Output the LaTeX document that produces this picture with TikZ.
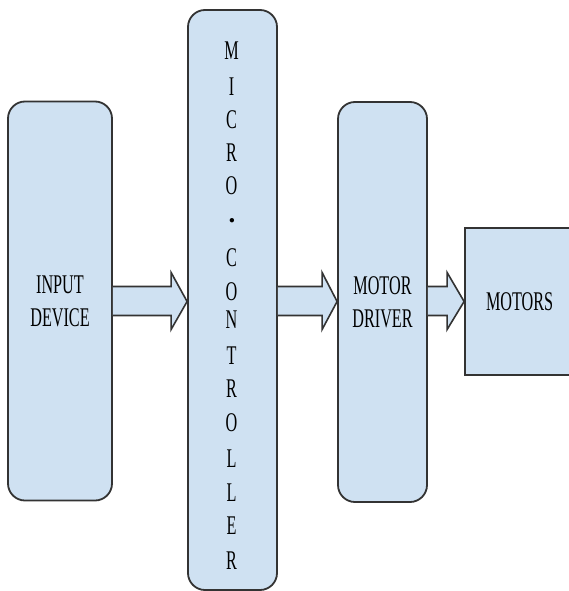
\documentclass[tikz,border=0pt]{standalone}
\usepackage{fontspec}
\usepackage{graphicx}
\setmainfont{Liberation Serif}
\usetikzlibrary{calc}
\definecolor{boxfill}{HTML}{CFE1F2}
\definecolor{boxline}{HTML}{333333}
\newcommand{\nar}[1]{\scalebox{0.6}[1]{#1}}
\newcommand{\blockarrow}[3]{% from, to, head length
  \draw[barrow] let \p1=(#1.east), \p2=(#2.west) in
    (\x1,301-14.5) -- (\x2-#3,301-14.5) -- (\x2-#3,301-28.5) -- (\x2,301.5)
    -- (\x2-#3,301+28.5) -- (\x2-#3,301+14.5) -- (\x1,301+14.5);}
\begin{document}
\begin{tikzpicture}[x=1pt,y=-1pt,
  blk/.style={draw=boxline,fill=boxfill,line width=1.8pt,rectangle,inner sep=0pt,
    align=center,text=black,font=\fontsize{27}{33}\selectfont},
  rblk/.style={blk,rounded corners=17pt},
  barrow/.style={draw=boxline,fill=boxfill,line width=1.6pt,line join=miter},
  letter/.style={inner sep=0pt,text=black,font=\fontsize{27}{33}\selectfont}]
\useasboundingbox (0,0) rectangle (569,591);
\clip (0,0) rectangle (569,591);
\fill[white] (0,0) rectangle (569,591);
% boxes
\node[rblk,minimum width=104,minimum height=399] (inp) at (60,301) {\nar{INPUT}\\\nar{DEVICE}};
\node[rblk,minimum width=89,minimum height=580] (mc) at (232.5,300) {};
\foreach \ch/\yy [count=\i] in {M/50.5,I/87,C/119.5,R/153,O/186,C/258,O/292,N/320,T/356,R/389,O/422.5,L/459,L/493,E/526,R/561}{
  \node[letter] (mc\i) at (231.5,\yy) {\nar{\ch}};
}
\node[letter,font=\bfseries\fontsize{27}{27}\selectfont] (mcdot) at (232,221) {.};
\node[rblk,minimum width=89,minimum height=400] (drv) at (382.5,302) {\nar{MOTOR}\\\nar{DRIVER}};
\node[blk,minimum width=150,minimum height=147,text width=150,align=left] (mot) at (540,301.5) {\hspace*{21pt}\raisebox{-2.5pt}{\nar{MOTORS}}};
% block arrows
\blockarrow{inp}{mc}{16}
\blockarrow{mc}{drv}{15}
\blockarrow{drv}{mot}{17}
\end{tikzpicture}
\end{document}
